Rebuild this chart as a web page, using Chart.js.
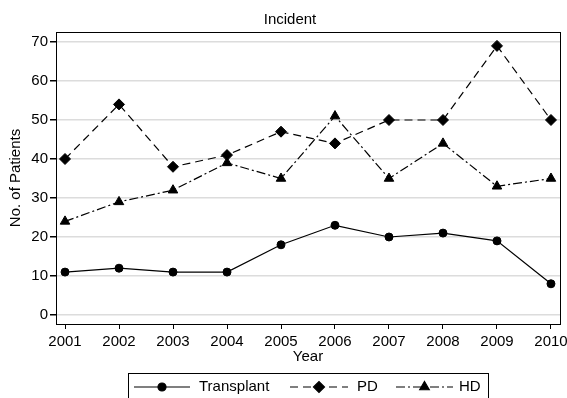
<!DOCTYPE html>
<html>
<head>
<meta charset="utf-8">
<script src="https://cdn.jsdelivr.net/npm/chart.js@4"></script>
<style>
  html, body { margin: 0; padding: 0; background: #fff; }
  #wrap { width: 567px; height: 398px; }
</style>
</head>
<body>
<div id="wrap"><canvas id="incidentChart" width="567" height="398"></canvas></div>
<script>
const years = [2001, 2002, 2003, 2004, 2005, 2006, 2007, 2008, 2009, 2010];
const transplant = [11, 12, 11, 11, 18, 23, 20, 21, 19, 8];
const pd = [40, 54, 38, 41, 47, 44, 50, 50, 69, 50];
const hd = [24, 29, 32, 39, 35, 51, 35, 44, 33, 35];
const yTicks = [0, 10, 20, 30, 40, 50, 60, 70];

const FONT = "'Liberation Sans', Arial, sans-serif";

function toPoints(vals) {
    return years.map((y, i) => ({ x: y, y: vals[i] }));
}

const seriesDefs = [
    { label: 'Transplant', data: transplant, dash: [], pointStyle: 'circle', radius: 4 },
    { label: 'PD', data: pd, dash: [8, 5], pointStyle: 'rectRot', radius: 5.5 },
    { label: 'HD', data: hd, dash: [9, 3, 2, 3], pointStyle: 'triangle', radius: 5.5 }
];

// frame around plot + custom legend box
const framePlugin = {
    id: 'frame',
    afterDraw(chart) {
        const ctx = chart.ctx;
        const a = chart.chartArea;
        ctx.save();
        ctx.strokeStyle = '#000';
        ctx.lineWidth = 1;
        ctx.strokeRect(Math.round(a.left) + 0.5, Math.round(a.top) + 0.5,
            Math.round(a.right - a.left), Math.round(a.bottom - a.top));

        // title, centred a little right like the original
        ctx.fillStyle = '#000';
        ctx.font = '15px ' + FONT;
        ctx.textAlign = 'center';
        ctx.textBaseline = 'middle';
        ctx.fillText('Incident', 290, 20);

        // legend
        const boxL = 128, boxR = 488, boxT = 373;
        ctx.strokeRect(boxL + 0.5, boxT + 0.5, boxR - boxL, 40);
        const items = [
            { x0: 134, x1: 190, tx: 199 },
            { x0: 290, x1: 348, tx: 357 },
            { x0: 396, x1: 453, tx: 459 }
        ];
        const cy = 387;
        chart.data.datasets.forEach((ds, i) => {
            const it = items[i];
            ctx.setLineDash(ds.borderDash || []);
            ctx.lineWidth = 1.2;
            ctx.beginPath();
            ctx.moveTo(it.x0, cy);
            ctx.lineTo(it.x1, cy);
            ctx.stroke();
            ctx.setLineDash([]);
            Chart.helpers.drawPoint(ctx, {
                pointStyle: ds.pointStyle,
                radius: ds.pointRadius,
                borderWidth: 1,
                rotation: 0
            }, (it.x0 + it.x1) / 2, cy);
            ctx.fillStyle = '#000';
            ctx.font = '15px ' + FONT;
            ctx.textBaseline = 'middle';
            ctx.textAlign = 'left';
            ctx.fillText(ds.label, it.tx, cy);
        });
        ctx.restore();
    }
};

const ctx = document.getElementById('incidentChart').getContext('2d');
new Chart(ctx, {
    type: 'line',
    data: {
        datasets: seriesDefs.map(s => ({
            label: s.label,
            data: toPoints(s.data),
            borderColor: '#000',
            backgroundColor: '#000',
            borderWidth: 1.2,
            borderDash: s.dash,
            pointStyle: s.pointStyle,
            pointRadius: s.radius,
            pointBackgroundColor: '#000',
            pointBorderColor: '#000',
            pointBorderWidth: 1,
            tension: 0
        }))
    },
    options: {
        responsive: false,
        animation: false,
        layout: { autoPadding: false, padding: { top: 32, right: 7, bottom: 32, left: 7 } },
        plugins: {
            legend: { display: false },
            tooltip: { enabled: false },
            title: { display: false }
        },
        scales: {
            x: {
                type: 'linear',
                min: 2000.833,
                max: 2010.167,
                afterBuildTicks(scale) { scale.ticks = years.map(v => ({ value: v })); },
                afterFit(scale) {
                    scale.height = 42;
                    scale.paddingLeft = 0;
                    scale.paddingRight = 0;
                },
                ticks: {
                    color: '#000',
                    font: { family: FONT, size: 15 },
                    maxRotation: 0,
                    autoSkip: false,
                    padding: 4,
                    callback: v => String(v)
                },
                grid: { drawOnChartArea: false, tickColor: '#000', tickLength: 5 },
                border: { display: false },
                title: {
                    display: true,
                    text: 'Year',
                    color: '#000',
                    font: { family: FONT, size: 15 },
                    padding: { top: 0, bottom: 0 }
                }
            },
            y: {
                min: -2.31,
                max: 72.56,
                afterBuildTicks(scale) { scale.ticks = yTicks.map(v => ({ value: v })); },
                afterFit(scale) {
                    scale.width = 49;
                    scale.paddingTop = 0;
                    scale.paddingBottom = 0;
                },
                ticks: {
                    color: '#000',
                    font: { family: FONT, size: 15 },
                    padding: 2
                },
                grid: { color: '#dcdcdc', lineWidth: 1.5, tickColor: '#000', tickLength: 6 },
                border: { display: false },
                title: {
                    display: true,
                    text: 'No. of Patients',
                    color: '#000',
                    font: { family: FONT, size: 15 },
                    padding: { top: 0, bottom: 2 }
                }
            }
        }
    },
    plugins: [framePlugin]
});
</script>
</body>
</html>
